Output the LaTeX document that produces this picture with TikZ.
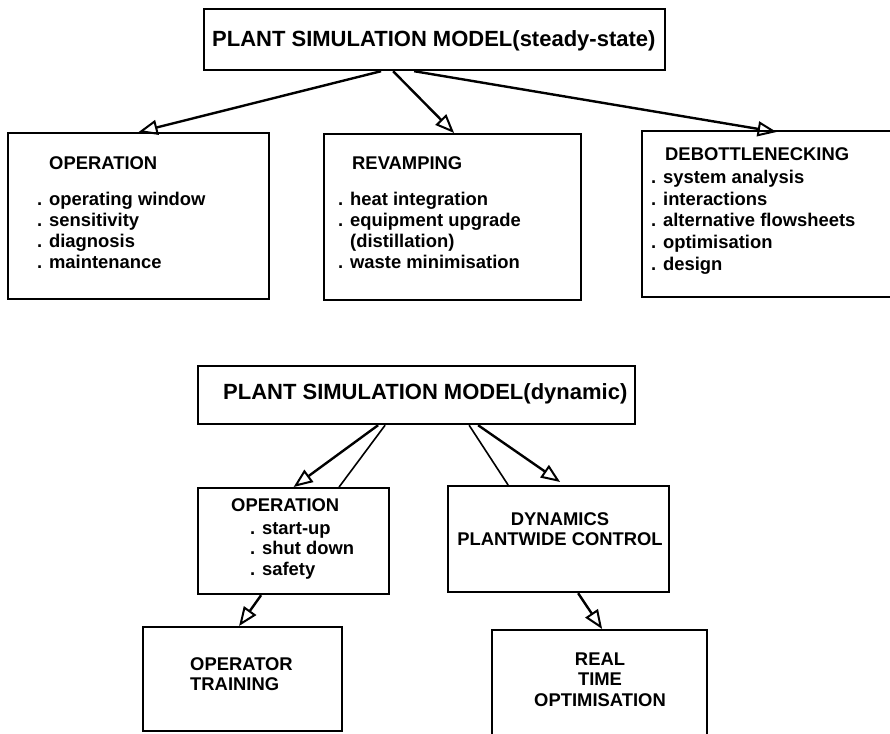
\documentclass[tikz,border=0pt]{standalone}
\usepackage{fontspec}
\setmainfont{Liberation Sans}
\usetikzlibrary{arrows.meta,calc}
\newcommand{\titlefont}{\bfseries\fontsize{22}{26}\selectfont}
\newcommand{\bodyfont}{\bfseries\fontsize{18.4}{21}\selectfont}
\begin{document}
\begin{tikzpicture}[x=1pt,y=-1pt,
  box/.style={draw, line width=2.2pt, rectangle, inner sep=0pt, anchor=north west},
  ttl/.style={inner sep=0pt, anchor=base west, font=\titlefont},
  txt/.style={inner sep=0pt, anchor=base west, font=\bodyfont},
  ctxt/.style={inner sep=0pt, anchor=base, font=\bodyfont},
  link/.style={line width=2.4pt, -{Triangle[open, length=19pt, width=15pt, line width=2pt]}},
  plain/.style={line width=1.6pt}]
\useasboundingbox (0,0) rectangle (890,733);
\fill[white] (0,0) rectangle (890,733);
\clip (0,0) rectangle (890,733);

% ---------- steady-state model ----------
\node[box, minimum width=461pt, minimum height=61pt] (top1) at (203,8) {};
\node[ttl] (top1t) at (212,46.7) {PLANT SIMULATION MODEL(steady-state)};

\node[box, minimum width=261pt, minimum height=166pt] (op1) at (7,132) {};
\node[txt] (op1h) at (49,169) {OPERATION};
\node[txt] (op1a) at (37,205) {. operating window};
\node[txt] (op1b) at (37,226.7) {. sensitivity};
\node[txt] (op1c) at (37,247.7) {. diagnosis};
\node[txt] (op1d) at (37,268.3) {. maintenance};

\node[box, minimum width=257pt, minimum height=166pt] (rev) at (323,133) {};
\node[txt] (revh) at (352,169) {REVAMPING};
\node[txt] (reva) at (338,205) {. heat integration};
\node[txt] (revb) at (338,226.7) {. equipment upgrade};
\node[txt] (revc) at (338,247.7) {\phantom{. }(distillation)};
\node[txt] (revd) at (338,268.3) {. waste minimisation};

\node[box, minimum width=269pt, minimum height=166pt] (deb) at (641,130) {};
\node[txt] (debh) at (665,160) {DEBOTTLENECKING};
\node[txt] (deba) at (651,183.3) {. system analysis};
\node[txt] (debb) at (651,205) {. interactions};
\node[txt] (debc) at (651,226.7) {. alternative flowsheets};
\node[txt] (debd) at (651,248.3) {. optimisation};
\node[txt] (debe) at (651,270) {. design};

\draw[link] ($(top1.south)+(-53.5,0)$) -- (op1.north);
\draw[link] ($(top1.south)+(-41.5,0)$) -- ($(rev.north)+(1.5,0)$);
\draw[link] ($(top1.south)+(-20.5,0)$) -- ($(deb.north)+(0,2)$);

% ---------- dynamic model ----------
\node[box, minimum width=437pt, minimum height=58pt] (top2) at (197,365) {};
\node[ttl] (top2t) at (223,399) {PLANT SIMULATION MODEL(dynamic)};

\node[box, minimum width=191pt, minimum height=106pt] (op2) at (197,487) {};
\node[txt] (op2h) at (231,511.5) {OPERATION};
\node[txt] (op2a) at (250,534.3) {. start-up};
\node[txt] (op2b) at (250,554.3) {. shut down};
\node[txt] (op2c) at (250,575) {. safety};

\node[box, minimum width=221pt, minimum height=106pt] (dyn) at (447,485) {};
\node[ctxt] (dyna) at (560,525) {DYNAMICS};
\node[ctxt] (dynb) at (560,545) {PLANTWIDE CONTROL};

\node[box, minimum width=199pt, minimum height=104pt] (train) at (142,626) {};
\node[txt] (traina) at (190,670) {OPERATOR};
\node[txt] (trainb) at (190,690) {TRAINING};

\node[box, minimum width=215pt, minimum height=140pt] (rto) at (491,629) {};
\node[ctxt] (rtoa) at (600,665.7) {REAL};
\node[ctxt] (rtob) at (600,685.7) {TIME};
\node[ctxt] (rtoc) at (600,706) {OPTIMISATION};

\draw[link] ($(top2.south)+(-38.5,0)$) -- (op2.north);
\draw[plain] ($(top2.south)+(-31.5,0)$) -- ($(op2.north)+(45.5,0)$);
\draw[plain] ($(top2.south)+(52.5,0)$) -- ($(dyn.north)+(-50.5,0)$);
\draw[link] ($(top2.south)+(61.5,0)$) -- ($(dyn.north)+(1.5,-3)$);
\draw[link] ($(op2.south)+(-32.5,0)$) -- ($(train.north)+(-3.5,0)$);
\draw[link] ($(dyn.south)+(19.5,0)$) -- ($(rto.north)+(2.5,0)$);
\end{tikzpicture}
\end{document}
